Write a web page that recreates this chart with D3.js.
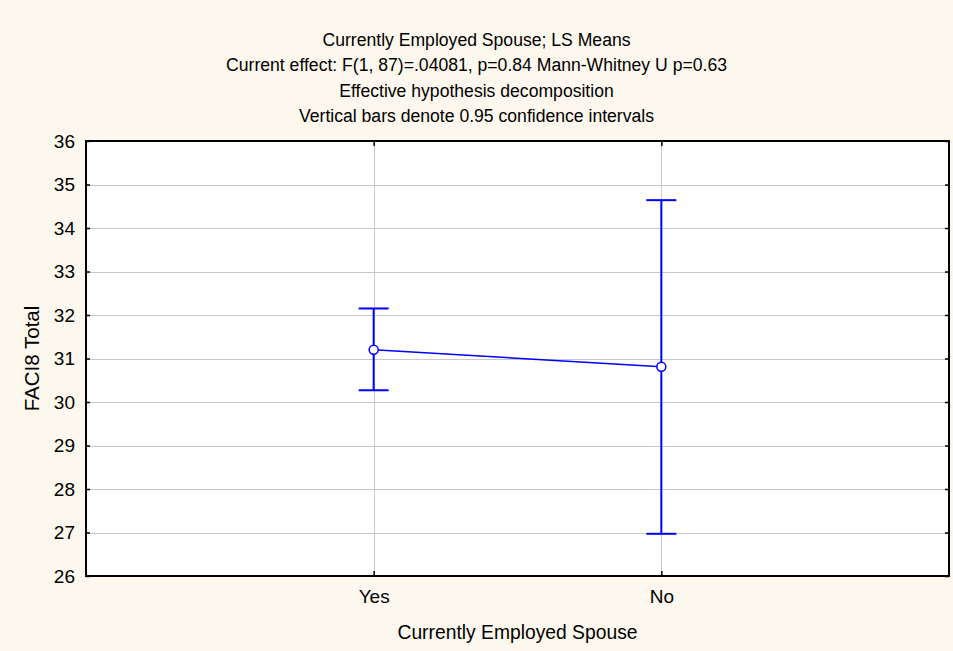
<!DOCTYPE html>
<html>
<head>
<meta charset="utf-8">
<script src="https://cdn.jsdelivr.net/npm/d3@7"></script>
<style>
  html, body { margin: 0; padding: 0; background: #FDF8EE; }
  svg { display: block; }
  text { font-family: "Liberation Sans", Arial, sans-serif; fill: #000; }
</style>
</head>
<body>
<svg id="chart" width="953" height="651"></svg>
<script>
// LS means of FACI8 Total by spouse employment, with 95% confidence limits
const categories = ["Yes", "No"];
const means = [31.20, 30.81];
const lowerCI = [30.27, 26.97];
const upperCI = [32.15, 34.64];
const yTickValues = [26, 27, 28, 29, 30, 31, 32, 33, 34, 35, 36];

const titleLines = [
  "Currently Employed Spouse; LS Means",
  "Current effect: F(1, 87)=.04081, p=0.84 Mann-Whitney U p=0.63",
  "Effective hypothesis decomposition",
  "Vertical bars denote 0.95 confidence intervals"
];
const xTitle = "Currently Employed Spouse";
const yTitle = "FACI8 Total";

const W = 953, H = 651;
const plot = { left: 86, top: 141, right: 949, bottom: 576 };
const tickFont = "19px";
const xTitleFont = "19.3px";
const yTitleFont = "20.5px";
const titleFont = "17.6px";

const svg = d3.select("#chart");

const x = d3.scalePoint()
  .domain(categories)
  .range([plot.left, plot.right])
  .padding(1);

const y = d3.scaleLinear()
  .domain([26, 36])
  .range([plot.bottom, plot.top]);

// plot background
svg.append("rect")
  .attr("x", plot.left).attr("y", plot.top)
  .attr("width", plot.right - plot.left)
  .attr("height", plot.bottom - plot.top)
  .attr("fill", "#fff");

// grid lines
const grid = svg.append("g").attr("stroke", "#C8C8C8").attr("stroke-width", 1);
grid.selectAll("line.h")
  .data(yTickValues.slice(1, -1))
  .join("line")
  .attr("x1", plot.left).attr("x2", plot.right)
  .attr("y1", d => Math.round(y(d)) + 0.5)
  .attr("y2", d => Math.round(y(d)) + 0.5);
grid.selectAll("line.v")
  .data(categories)
  .join("line")
  .attr("x1", d => Math.round(x(d)) + 0.5)
  .attr("x2", d => Math.round(x(d)) + 0.5)
  .attr("y1", plot.top).attr("y2", plot.bottom);

// axes with inward ticks on all four sides
function styleAxis(g) {
  g.select(".domain").remove();
  g.selectAll(".tick line").attr("stroke", "#000").attr("stroke-width", 1.5);
  g.selectAll(".tick text")
    .style("font-family", '"Liberation Sans", Arial, sans-serif')
    .style("font-size", tickFont)
    .attr("fill", "#000");
}

svg.append("g")
  .attr("transform", `translate(${plot.left},0)`)
  .call(d3.axisLeft(y).tickValues(yTickValues).tickFormat(d3.format("d"))
    .tickSizeInner(-4).tickSizeOuter(0).tickPadding(11))
  .call(styleAxis);

svg.append("g")
  .attr("transform", `translate(${plot.right},0)`)
  .call(d3.axisRight(y).tickValues(yTickValues).tickSizeInner(-4).tickSizeOuter(0).tickFormat(""))
  .call(styleAxis);

svg.append("g")
  .attr("transform", `translate(0,${plot.bottom})`)
  .call(d3.axisBottom(x).tickSizeInner(-5).tickSizeOuter(0).tickPadding(14))
  .call(styleAxis);

svg.append("g")
  .attr("transform", `translate(0,${plot.top})`)
  .call(d3.axisTop(x).tickSizeInner(-5).tickSizeOuter(0).tickFormat(""))
  .call(styleAxis);

// plot frame
svg.append("rect")
  .attr("x", plot.left).attr("y", plot.top)
  .attr("width", plot.right - plot.left)
  .attr("height", plot.bottom - plot.top)
  .attr("fill", "none")
  .attr("stroke", "#000")
  .attr("stroke-width", 2);

// means and confidence intervals
const rows = categories.map((c, i) => ({ c, m: means[i], lo: lowerCI[i], hi: upperCI[i] }));
const blue = "#0000FF";
const capHalf = 15;

const series = svg.append("g");

series.append("path")
  .datum(rows)
  .attr("fill", "none")
  .attr("stroke", blue)
  .attr("stroke-width", 1.5)
  .attr("d", d3.line().x(d => x(d.c)).y(d => y(d.m)));

const bars = series.selectAll("g.bar").data(rows).join("g").attr("class", "bar")
  .attr("stroke", blue).attr("stroke-width", 2);
bars.append("line")
  .attr("x1", d => x(d.c)).attr("x2", d => x(d.c))
  .attr("y1", d => y(d.lo)).attr("y2", d => y(d.hi));
bars.append("line")
  .attr("x1", d => x(d.c) - capHalf).attr("x2", d => x(d.c) + capHalf)
  .attr("y1", d => y(d.hi)).attr("y2", d => y(d.hi));
bars.append("line")
  .attr("x1", d => x(d.c) - capHalf).attr("x2", d => x(d.c) + capHalf)
  .attr("y1", d => y(d.lo)).attr("y2", d => y(d.lo));

series.selectAll("circle").data(rows).join("circle")
  .attr("cx", d => x(d.c)).attr("cy", d => y(d.m))
  .attr("r", 4.5)
  .attr("fill", "#fff")
  .attr("stroke", blue)
  .attr("stroke-width", 1.5);

// titles
svg.append("g").selectAll("text").data(titleLines).join("text")
  .attr("x", W / 2)
  .attr("y", (d, i) => 46 + i * 25.3)
  .attr("text-anchor", "middle")
  .style("font-size", titleFont)
  .text(d => d);

svg.append("text")
  .attr("x", (plot.left + plot.right) / 2)
  .attr("y", 639)
  .attr("text-anchor", "middle")
  .style("font-size", xTitleFont)
  .text(xTitle);

svg.append("text")
  .attr("transform", `translate(39,${(plot.top + plot.bottom) / 2}) rotate(-90)`)
  .attr("text-anchor", "middle")
  .style("font-size", yTitleFont)
  .text(yTitle);
</script>
</body>
</html>
